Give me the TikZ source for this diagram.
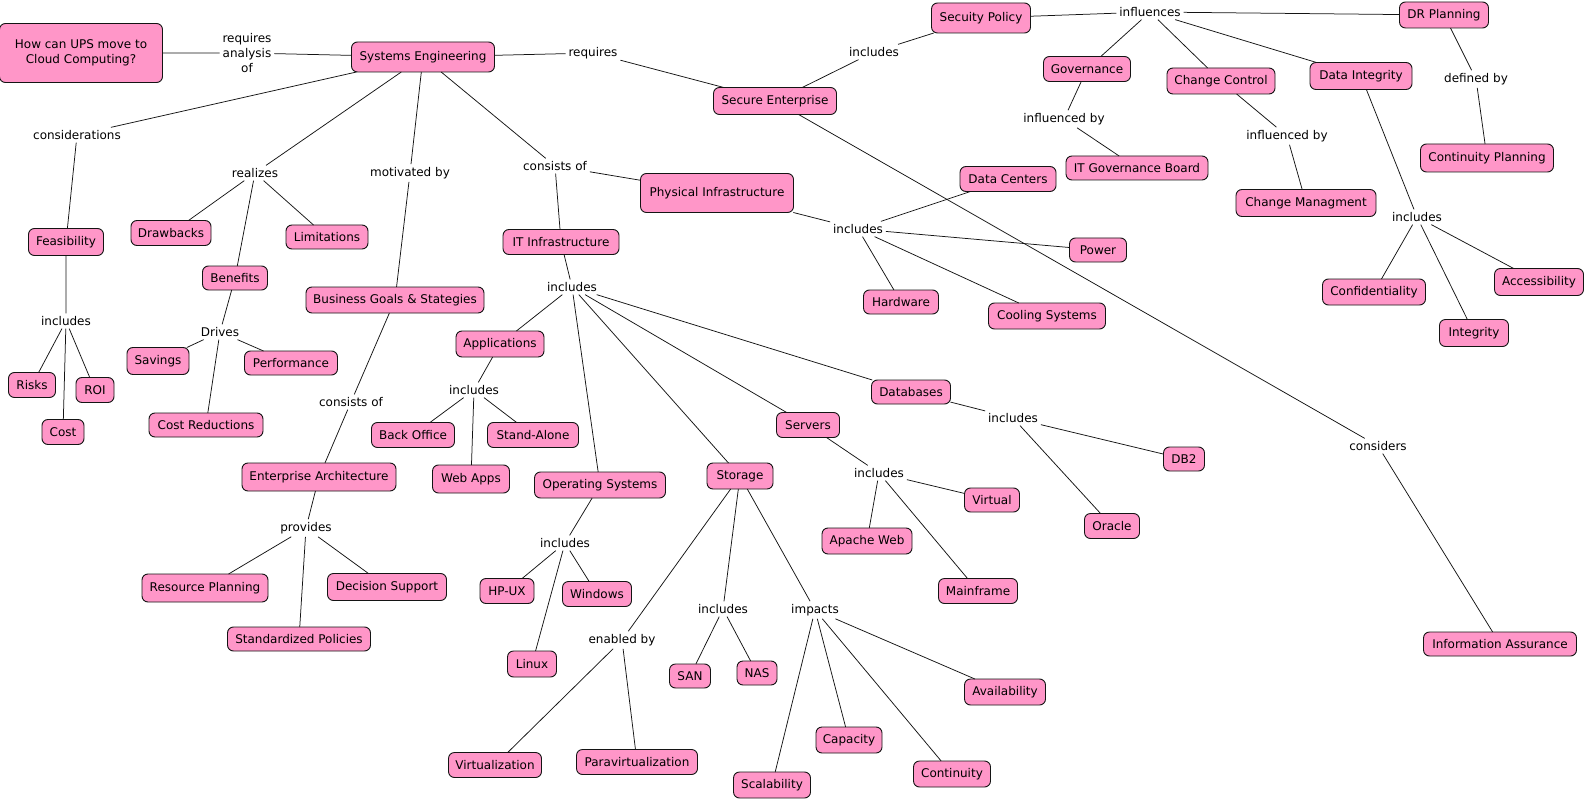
\documentclass[tikz,border=0pt]{standalone}
\usepackage{fontspec}
\setmainfont{DejaVu Sans}
\definecolor{cpink}{RGB}{255,150,200}
\definecolor{cline}{RGB}{20,20,20}
\tikzset{
  concept/.style={draw=cline, fill=cpink, rounded corners=6pt, line width=0.9pt,
    inner sep=0pt, outer sep=0pt, align=center, font=\fontsize{12}{15}\selectfont},
  lnk/.style={inner sep=3pt, outer sep=0pt, align=center, font=\fontsize{12}{15}\selectfont},
  conn/.style={line width=0.75pt, draw=cline}
}
\newcommand{\cpt}[6]{\node[concept, minimum width=#4, minimum height=#5] (#1) at (#2,#3) {#6};}
\begin{document}
\begin{tikzpicture}[x=1pt, y=-1pt]
\useasboundingbox[fill=white] (0,0) rectangle (1586,802);
% concepts
\cpt{q}{81}{53}{163}{59}{How can UPS move to\\Cloud Computing?}
\cpt{se}{423}{57}{143}{30}{Systems Engineering}
\cpt{sent}{775}{101}{123}{27}{Secure Enterprise}
\cpt{spol}{981}{18}{99}{30}{Secuity Policy}
\cpt{dr}{1444}{15}{89}{26}{DR Planning}
\cpt{gov}{1087}{69}{87}{25}{Governance}
\cpt{cc}{1221}{81}{108}{26}{Change Control}
\cpt{di}{1361}{76}{102}{27}{Data Integrity}
\cpt{itgb}{1137}{168}{142}{24}{IT Governance Board}
\cpt{cm}{1306}{203}{140}{27}{Change Managment}
\cpt{cp}{1487}{158}{133}{28}{Continuity Planning}
\cpt{conf}{1374}{292}{103}{26}{Confidentiality}
\cpt{acc}{1539}{282}{89}{27}{Accessibility}
\cpt{integ}{1474}{333}{69}{27}{Integrity}
\cpt{ia}{1500}{644}{153}{24}{Information Assurance}
\cpt{feas}{66}{242}{75}{27}{Feasibility}
\cpt{draw}{171}{233}{80}{25}{Drawbacks}
\cpt{lim}{327}{237}{82}{24}{Limitations}
\cpt{ben}{235}{278}{65}{24}{Benefits}
\cpt{bg}{395}{300}{178}{26}{Business Goals \& Stategies}
\cpt{sav}{158}{361}{62}{27}{Savings}
\cpt{perf}{291}{363}{93}{24}{Performance}
\cpt{risks}{32}{385}{47}{25}{Risks}
\cpt{roi}{95}{390}{38}{25}{ROI}
\cpt{cost}{63}{432}{42}{25}{Cost}
\cpt{cred}{206}{425}{114}{24}{Cost Reductions}
\cpt{ea}{319}{477}{154}{28}{Enterprise Architecture}
\cpt{rp}{205}{588}{126}{28}{Resource Planning}
\cpt{ds}{387}{587}{119}{27}{Decision Support}
\cpt{sp}{299}{639}{143}{24}{Standardized Policies}
\cpt{it}{561}{242}{116}{25}{IT Infrastructure}
\cpt{pi}{717}{193}{153}{39}{Physical Infrastructure}
\cpt{dc}{1008}{179}{96}{25}{Data Centers}
\cpt{pow}{1098}{250}{57}{24}{Power}
\cpt{hw}{901}{302}{75}{24}{Hardware}
\cpt{cool}{1047}{316}{117}{26}{Cooling Systems}
\cpt{app}{500}{344}{88}{26}{Applications}
\cpt{bo}{413}{435}{83}{25}{Back Office}
\cpt{sa}{533}{435}{91}{25}{Stand-Alone}
\cpt{wa}{471}{479}{77}{28}{Web Apps}
\cpt{os}{600}{485}{131}{26}{Operating Systems}
\cpt{hpux}{507}{591}{54}{25}{HP-UX}
\cpt{win}{597}{594}{69}{25}{Windows}
\cpt{linux}{532}{664}{49}{26}{Linux}
\cpt{virt}{495}{765}{93}{25}{Virtualization}
\cpt{para}{637}{762}{121}{25}{Paravirtualization}
\cpt{stor}{740}{476}{66}{26}{Storage}
\cpt{san}{690}{676}{41}{24}{SAN}
\cpt{nas}{757}{673}{40}{24}{NAS}
\cpt{scal}{772}{785}{77}{26}{Scalability}
\cpt{capa}{849}{740}{66}{26}{Capacity}
\cpt{cont}{952}{774}{77}{26}{Continuity}
\cpt{avail}{1005}{692}{81}{26}{Availability}
\cpt{srv}{808}{425}{63}{25}{Servers}
\cpt{aw}{867}{541}{90}{26}{Apache Web}
\cpt{mf}{978}{591}{79}{25}{Mainframe}
\cpt{vir}{992}{500}{55}{24}{Virtual}
\cpt{dbs}{911}{392}{79}{24}{Databases}
\cpt{db2}{1184}{459}{41}{24}{DB2}
\cpt{ora}{1112}{526}{55}{25}{Oracle}
% linking phrases
\node[lnk] (lq) at (247,53) {requires\\analysis\\of};
\node[lnk] (lreq) at (593,53) {requires};
\node[lnk] (lsei) at (874,52) {includes};
\node[lnk] (linf) at (1150,12) {influences};
\node[lnk] (lgov) at (1064,119) {influenced by};
\node[lnk] (lcc) at (1287,136) {influenced by};
\node[lnk] (ldef) at (1476,79) {defined by};
\node[lnk] (ldi) at (1417,217) {includes};
\node[lnk] (lcons) at (1378,446) {considers};
\node[lnk] (lcon) at (77,135) {considerations};
\node[lnk] (lfe) at (66,321) {includes};
\node[lnk] (lrea) at (255,173) {realizes};
\node[lnk] (ldr) at (220,332) {Drives};
\node[lnk] (lmot) at (410,173) {motivated by};
\node[lnk] (lbg) at (351,402) {consists of};
\node[lnk] (lprov) at (306,528) {provides};
\node[lnk] (lcst) at (555,166) {consists of};
\node[lnk] (lpi) at (858,229) {includes};
\node[lnk] (lit) at (572,287) {includes};
\node[lnk] (lapp) at (474,390) {includes};
\node[lnk] (los) at (565,543) {includes};
\node[lnk] (len) at (622,640) {enabled by};
\node[lnk] (lsti) at (723,609) {includes};
\node[lnk] (limp) at (815,610) {impacts};
\node[lnk] (lsrv) at (879,473) {includes};
\node[lnk] (ldb) at (1013,418) {includes};
% connectors
\draw[conn] (q) -- (lq) -- (se);
\draw[conn] (se) -- (lreq) -- (sent);
\draw[conn] (sent) -- (lsei) -- (spol);
\draw[conn] (spol) -- (linf) -- (dr);
\draw[conn] (linf) -- (gov);
\draw[conn] (linf) -- (cc);
\draw[conn] (linf) -- (di);
\draw[conn] (gov) -- (lgov) -- (itgb);
\draw[conn] (cc) -- (lcc) -- (cm);
\draw[conn] (dr) -- (ldef) -- (cp);
\draw[conn] (di) -- (ldi) -- (conf);
\draw[conn] (ldi) -- (integ);
\draw[conn] (ldi) -- (acc);
\draw[conn] (sent) -- (lcons) -- (ia);
\draw[conn] (se) -- (lcon) -- (feas);
\draw[conn] (feas) -- (lfe) -- (risks);
\draw[conn] (lfe) -- (cost);
\draw[conn] (lfe) -- (roi);
\draw[conn] (se) -- (lrea) -- (draw);
\draw[conn] (lrea) -- (ben);
\draw[conn] (lrea) -- (lim);
\draw[conn] (ben) -- (ldr) -- (sav);
\draw[conn] (ldr) -- (cred);
\draw[conn] (ldr) -- (perf);
\draw[conn] (se) -- (lmot) -- (bg);
\draw[conn] (bg) -- (lbg) -- (ea);
\draw[conn] (ea) -- (lprov) -- (rp);
\draw[conn] (lprov) -- (sp);
\draw[conn] (lprov) -- (ds);
\draw[conn] (se) -- (lcst) -- (it);
\draw[conn] (lcst) -- (pi);
\draw[conn] (pi) -- (lpi) -- (dc);
\draw[conn] (lpi) -- (pow);
\draw[conn] (lpi) -- (hw);
\draw[conn] (lpi) -- (cool);
\draw[conn] (it) -- (lit) -- (app);
\draw[conn] (lit) -- (os);
\draw[conn] (lit) -- (stor);
\draw[conn] (lit) -- (srv);
\draw[conn] (lit) -- (dbs);
\draw[conn] (app) -- (lapp) -- (bo);
\draw[conn] (lapp) -- (wa);
\draw[conn] (lapp) -- (sa);
\draw[conn] (os) -- (los) -- (hpux);
\draw[conn] (los) -- (linux);
\draw[conn] (los) -- (win);
\draw[conn] (stor) -- (len) -- (virt);
\draw[conn] (len) -- (para);
\draw[conn] (stor) -- (lsti) -- (san);
\draw[conn] (lsti) -- (nas);
\draw[conn] (stor) -- (limp) -- (scal);
\draw[conn] (limp) -- (capa);
\draw[conn] (limp) -- (cont);
\draw[conn] (limp) -- (avail);
\draw[conn] (srv) -- (lsrv) -- (aw);
\draw[conn] (lsrv) -- (mf);
\draw[conn] (lsrv) -- (vir);
\draw[conn] (dbs) -- (ldb) -- (db2);
\draw[conn] (ldb) -- (ora);
\end{tikzpicture}
\end{document}
